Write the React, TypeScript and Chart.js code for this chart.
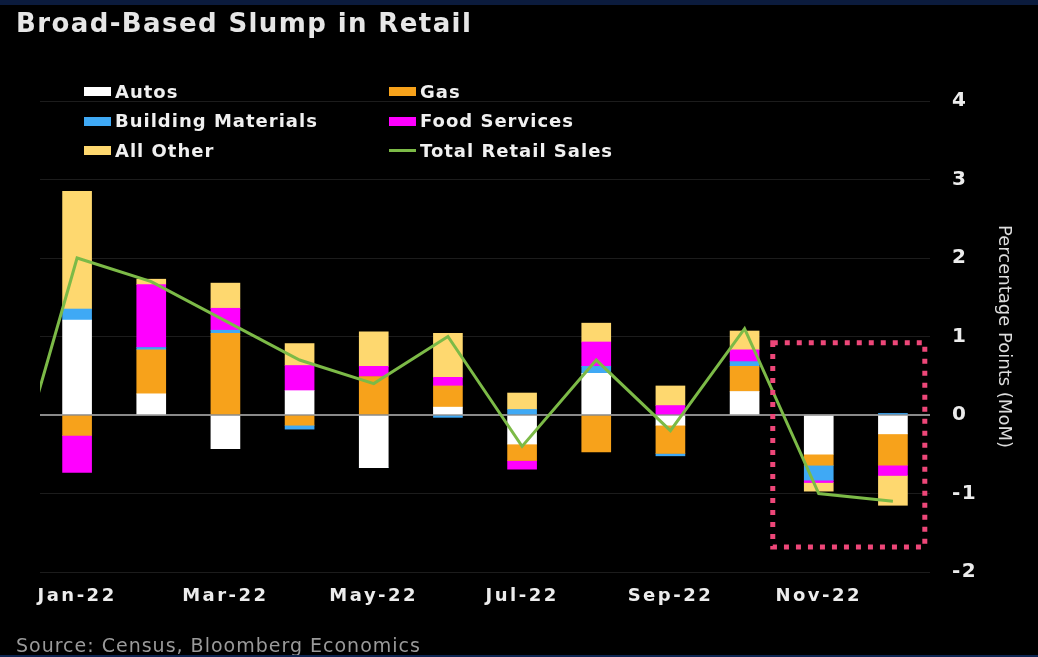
import React, { useEffect, useRef } from "react";
import { Chart, registerables } from "chart.js";

Chart.register(...registerables);

// ---------- data ----------
const months = [
  "Jan-22", "Feb-22", "Mar-22", "Apr-22", "May-22", "Jun-22",
  "Jul-22", "Aug-22", "Sep-22", "Oct-22", "Nov-22", "Dec-22",
];
const tickMonths = ["Jan-22", "Mar-22", "May-22", "Jul-22", "Sep-22", "Nov-22"];

const autos = [1.21, 0.27, -0.43, 0.31, -0.67, 0.1, -0.37, 0.53, -0.13, 0.3, -0.5, -0.24];
const gas = [-0.26, 0.56, 1.04, -0.13, 0.49, 0.27, -0.21, -0.47, -0.36, 0.32, -0.14, -0.4];
const buildingMaterials = [0.14, 0.03, 0.04, -0.05, 0.0, -0.03, 0.07, 0.09, -0.03, 0.06, -0.19, 0.02];
const foodServices = [-0.47, 0.8, 0.28, 0.32, 0.13, 0.11, -0.11, 0.31, 0.12, 0.15, -0.03, -0.13];
const allOther = [1.5, 0.07, 0.32, 0.28, 0.44, 0.56, 0.21, 0.24, 0.25, 0.24, -0.11, -0.38];

// total line also has the previous month (Dec-21), which is cut off at the left edge
const totalMonths = ["Dec-21", ...months];
const totalRetailSales = [-1.3, 2.0, 1.7, 1.2, 0.7, 0.4, 1.0, -0.4, 0.7, -0.2, 1.1, -1.0, -1.1];

const yMin = -2;
const yMax = 4;

// highlight box (data units: month index / percentage points)
const highlightX = [9.38, 11.43];
const highlightY = [-1.68, 0.92];

// ---------- styles ----------
const seriesNames = ["Autos", "Gas", "Building Materials", "Food Services", "All Other"];
const seriesColors = ["#ffffff", "#f7a21b", "#3fa9f5", "#ff00ff", "#fed86f"];
const seriesValues = [autos, gas, buildingMaterials, foodServices, allOther];
const lineName = "Total Retail Sales";
const lineColor = "#7cba47";
const FONT = '"DejaVu Sans", sans-serif';

const monthIndex = (m: string) => months.indexOf(m);

const spacingPlugin = {
  id: "tickSpacing",
  afterUpdate(chart: any) {
    const conf: [string, string][] = [["x", "2.5px"], ["y", "1.5px"]];
    for (const [id, sp] of conf) {
      const s: any = chart.scales[id];
      if (s && !s.__spaced) {
        const orig = s.drawLabels.bind(s);
        s.drawLabels = (area: any) => {
          const c = s.ctx;
          c.save();
          c.letterSpacing = sp;
          orig(area);
          c.restore();
        };
        s.__spaced = true;
      }
    }
  },
};

const highlightPlugin = {
  id: "highlight",
  afterDatasetsDraw(chart: any) {
    const { ctx, scales } = chart;
    const x1 = scales.x.getPixelForValue(highlightX[0]);
    const x2 = scales.x.getPixelForValue(highlightX[1]);
    const y1 = scales.y.getPixelForValue(highlightY[1]);
    const y2 = scales.y.getPixelForValue(highlightY[0]);
    ctx.save();
    ctx.strokeStyle = "#ee4779";
    ctx.lineWidth = 5;
    ctx.setLineDash([5, 7]);
    ctx.strokeRect(x1, y1, x2 - x1, y2 - y1);
    ctx.restore();
  },
};

export default function App() {
  const ref = useRef<HTMLCanvasElement>(null);

  useEffect(() => {
    Chart.defaults.font.family = FONT;
    const barSets = seriesNames.map((name, k) => ({
      type: "bar" as const,
      label: name,
      data: seriesValues[k].map((v, i) => ({ x: i, y: v })),
      backgroundColor: seriesColors[k],
      borderWidth: 0,
      barThickness: 29,
      stack: "parts",
      order: 1,
    }));
    const lineSet = {
      type: "line" as const,
      label: lineName,
      data: totalMonths.map((m, i) => ({ x: i - 1, y: totalRetailSales[i] })),
      borderColor: lineColor,
      borderWidth: 3,
      pointRadius: 0,
      tension: 0,
      order: 0,
    };

    const chart = new Chart(ref.current!, {
      type: "bar",
      data: { datasets: [...barSets, lineSet] as any },
      options: {
        animation: false,
        responsive: true,
        maintainAspectRatio: false,
        layout: { padding: { left: 40, top: 101, right: 0, bottom: 45 } },
        plugins: { legend: { display: false }, tooltip: { enabled: false } },
        scales: {
          x: {
            type: "linear",
            offset: false,
            min: -0.5,
            max: months.length - 0.5,
            stacked: true,
            grid: { display: false },
            border: { display: false },
            afterBuildTicks: (s: any) => {
              s.ticks = tickMonths.map((m) => ({ value: monthIndex(m) }));
            },
            afterFit: (s: any) => {
              s.height = 40;
            },
            ticks: {
              autoSkip: false,
              maxRotation: 0,
              padding: 6,
              color: "#ececec",
              font: { family: FONT, size: 18, weight: "bold" },
              callback: (v: any) => months[v as number] ?? "",
            },
          },
          y: {
            position: "right",
            min: yMin,
            max: yMax,
            stacked: true,
            border: { display: false },
            grid: {
              drawTicks: false,
              color: (c: any) => (c.tick && c.tick.value === 0 ? "#8a8a8a" : "#1c1c1c"),
              lineWidth: (c: any) => (c.tick && c.tick.value === 0 ? 2 : 1),
            },
            afterFit: (s: any) => {
              s.width = 108;
            },
            ticks: {
              stepSize: 1,
              padding: 22,
              color: "#ececec",
              font: { family: FONT, size: 20, weight: "bold" },
            },
            title: {
              display: true,
              text: "Percentage Points (MoM)",
              color: "#dddddd",
              font: { family: FONT, size: 18 },
              padding: { top: 24, bottom: 0 },
            },
          },
        },
      } as any,
      plugins: [spacingPlugin, highlightPlugin],
    });
    return () => chart.destroy();
  }, []);

  const legendItems = [
    ...seriesNames.map((n, k) => ({ name: n, color: seriesColors[k], line: false })),
    { name: lineName, color: lineColor, line: true },
  ];

  return (
    <div
      style={{
        position: "absolute",
        left: 0,
        top: 0,
        width: 1038,
        height: 657,
        background: "#000",
        overflow: "hidden",
        fontFamily: FONT,
      }}
    >
      <div style={{ position: "absolute", left: 0, top: 0, width: 1038, height: 657 }}>
        <canvas ref={ref} />
      </div>
      <div style={{ position: "absolute", left: 0, top: 0, width: 1038, height: 5, background: "#0b1b3d" }} />
      <div
        style={{
          position: "absolute",
          left: 16,
          top: 10,
          fontSize: 26,
          lineHeight: "26px",
          fontWeight: "bold",
          letterSpacing: "1.4px",
          color: "#e6e6e6",
          whiteSpace: "nowrap",
        }}
      >
        Broad-Based Slump in Retail
      </div>
      <div
        style={{
          position: "absolute",
          left: 84,
          top: 77,
          display: "grid",
          gridTemplateColumns: "305px 305px",
          gridAutoRows: "29.5px",
        }}
      >
        {legendItems.map((it) => (
          <div key={it.name} style={{ display: "flex", alignItems: "center" }}>
            <div
              style={{
                width: 27,
                height: it.line ? 3 : 9,
                background: it.color,
                marginRight: 4,
              }}
            />
            <span
              style={{
                fontSize: 18,
                lineHeight: "20px",
                fontWeight: "bold",
                letterSpacing: "1px",
                color: "#f0f0f0",
                whiteSpace: "nowrap",
              }}
            >
              {it.name}
            </span>
          </div>
        ))}
      </div>
      <div
        style={{
          position: "absolute",
          left: 16,
          top: 636,
          fontSize: 19,
          lineHeight: "19px",
          letterSpacing: "1px",
          color: "#9a9a9a",
          whiteSpace: "nowrap",
        }}
      >
        Source: Census, Bloomberg Economics
      </div>
      <div style={{ position: "absolute", left: 0, top: 655, width: 1038, height: 2, background: "#0d2552" }} />
    </div>
  );
}
